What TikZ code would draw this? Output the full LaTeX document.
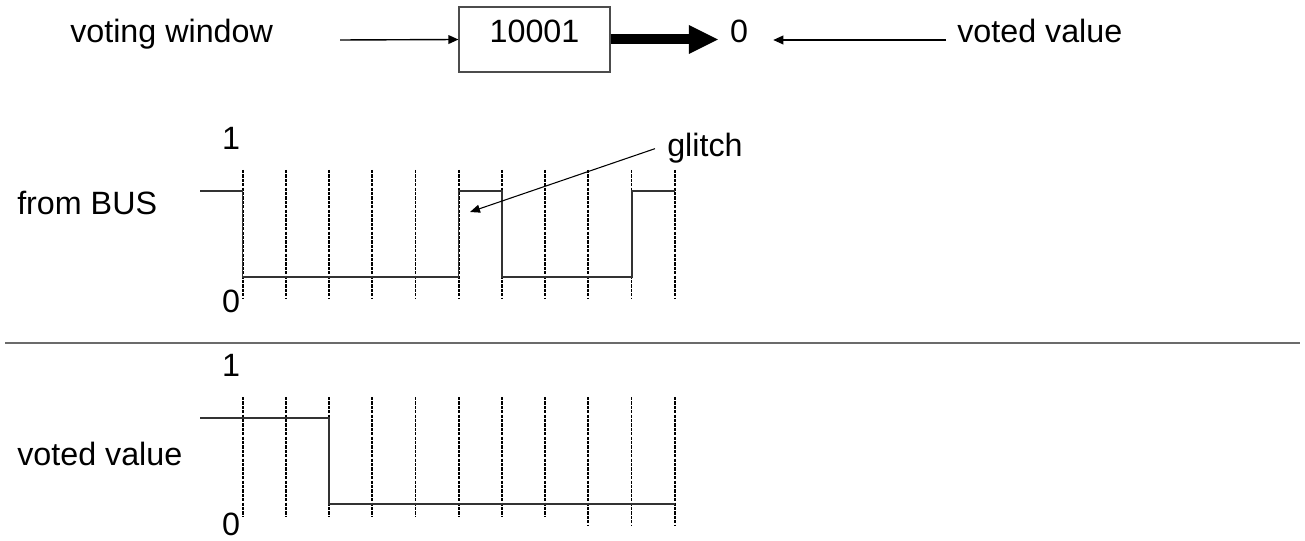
\documentclass[tikz,border=0pt]{standalone}
\usepackage{fontspec}
\setmainfont{Liberation Sans}
\usetikzlibrary{arrows.meta}
\begin{document}
\begin{tikzpicture}[x=0.75pt,y=-0.75pt,
  lbl/.style={font=\fontsize{24.2}{29}\selectfont, inner sep=0pt},
  thin arrow/.style={line width=1.05pt, -{Triangle[length=7.5pt,width=6.5pt]}},
  tick/.style={line width=1.4pt, dash pattern=on 2.4pt off 0.9pt},
  signal/.style={line width=0.95pt, black!80},
]
\useasboundingbox (0,0) rectangle (1305,541);

% ---- voter: window, register box and output ----
\node[lbl, anchor=base west] (vw) at (70,43) {voting window};
\node[lbl, draw=black!70, line width=0.8pt, minimum width=113.25pt,
      text height=27pt, text depth=21.75pt, anchor=base] (box) at (534.5,43) {10001};
\node[lbl, inner xsep=9pt, anchor=base] (zero) at (739,43) {0};
\node[lbl, anchor=base west] (vv) at (957,43) {voted value};
\coordinate (vwtail) at (340,40);
\coordinate (vvtail) at (946,40);
\draw[thin arrow] (vwtail) -- (box.west);
\draw[line width=7.5pt, -{Triangle[length=21.75pt,width=21.75pt,line width=0pt]}]
  (box.east) -- (box.east -| zero.west);
\draw[thin arrow, shorten >=9.75pt] (vvtail) -- (vvtail -| zero.east);

% ---- bus signal with a glitch ----
\node[lbl, anchor=base west] (bus) at (17,215) {from BUS};
\node[lbl, anchor=base] (bhi) at (231,150) {1};
\node[lbl, anchor=base] (blo) at (231,312) {0};
\foreach \i in {0,...,10}
  \draw[tick] ({242.7+43.2*\i},170) -- ({242.7+43.2*\i},298);
\draw[signal] (200,191) -- (242.7,191) -- (242.7,277) -- (458.7,277)
  -- (458.7,191) -- (502,191) -- (502,277) -- (632,277) -- (632,191) -- (674.7,191);
\node[lbl, inner xsep=9pt, anchor=base west] (glitch) at (655,157) {glitch};
\coordinate (gtip) at (470,212);
\draw[line width=0.8pt, -{Triangle[length=7.5pt,width=6pt]}] (glitch.west) -- (gtip);

% ---- separator ----
\draw[line width=1.5pt, black!58] (5,342.7) -- (1300,342.7);

% ---- voted output signal ----
\node[lbl, anchor=base west] (out) at (17,465) {voted value};
\node[lbl, anchor=base] (ohi) at (231,376) {1};
\node[lbl, anchor=base] (olo) at (231,535) {0};
\foreach \i in {0,...,7}
  \draw[tick] ({242.7+43.2*\i},397) -- ({242.7+43.2*\i},516);
\foreach \i in {8,9,10}
  \draw[tick] ({242.7+43.2*\i},397) -- ({242.7+43.2*\i},525);
\draw[signal] (200,418) -- (329.1,418) -- (329.1,504) -- (674.7,504);
\end{tikzpicture}
\end{document}
